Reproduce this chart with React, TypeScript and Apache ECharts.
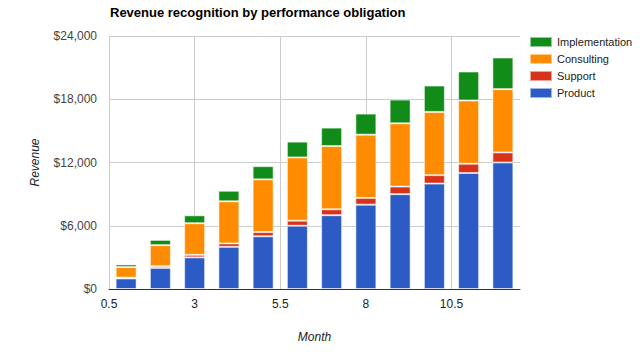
import React, { useEffect, useRef } from "react";
import * as echarts from "echarts";

const months = ["1", "2", "3", "4", "5", "6", "7", "8", "9", "10", "11", "12"];
const product = [1000, 2000, 3000, 4000, 5000, 6000, 7000, 8000, 9000, 10000, 11000, 12000];
const support = [80, 160, 240, 320, 400, 480, 560, 640, 720, 800, 880, 960];
const consulting = [1000, 2000, 3000, 4000, 5000, 6000, 6000, 6000, 6000, 6000, 6000, 6000];
const implementation = [250, 500, 750, 1000, 1250, 1500, 1750, 2000, 2250, 2500, 2750, 3000];
const xTicks = [0.5, 3, 5.5, 8, 10.5];
const legendOrder = ["Implementation", "Consulting", "Support", "Product"];

const FONT = "Liberation Sans, Arial, sans-serif";

export default function App() {
  const ref = useRef<HTMLDivElement>(null);
  useEffect(() => {
    if (!ref.current) return;
    const chart = echarts.init(ref.current, undefined, { renderer: "svg" });
    const mk = (name: string, vals: number[], color: string) => ({
      name,
      type: "bar",
      stack: "total",
      xAxisIndex: 1,
      barWidth: 21,
      data: vals,
      itemStyle: { color, borderColor: "rgba(255,255,255,0.55)", borderWidth: 1 },
    });
    chart.setOption({
      animation: false,
      textStyle: { fontFamily: FONT },
      title: {
        text: "Revenue recognition by performance obligation",
        left: 105,
        top: 1,
        textStyle: { fontSize: 13, fontWeight: "bold", color: "#000", fontFamily: FONT },
      },
      legend: {
        orient: "vertical",
        left: 529,
        top: 36,
        padding: 0,
        itemWidth: 22,
        itemHeight: 10,
        itemGap: 5,
        icon: "rect",
        data: legendOrder,
        textStyle: { fontSize: 11, color: "#222", fontFamily: FONT },
      },
      grid: { left: 109, top: 36, width: 411, height: 253, containLabel: false },
      xAxis: [
        {
          type: "value",
          min: 0.5,
          max: 12.5,
          name: "Month",
          nameLocation: "middle",
          nameGap: 42,
          nameTextStyle: { fontStyle: "italic", fontSize: 12, color: "#222", fontFamily: FONT },
          axisLine: { show: true, lineStyle: { color: "#333", width: 1 } },
          axisTick: { show: false, customValues: xTicks },
          axisLabel: { customValues: xTicks, fontSize: 12, color: "#222", margin: 9, fontFamily: FONT },
          splitLine: { show: true, lineStyle: { color: "#ccc", width: 1 } },
        },
        {
          type: "category",
          data: months,
          position: "bottom",
          boundaryGap: true,
          show: false,
        },
      ],
      yAxis: {
        type: "value",
        min: 0,
        max: 24000,
        interval: 6000,
        name: "Revenue",
        nameLocation: "middle",
        nameGap: 68,
        nameTextStyle: { fontStyle: "italic", fontSize: 12, color: "#222", fontFamily: FONT },
        axisLine: { show: false },
        axisTick: { show: false },
        axisLabel: {
          fontSize: 12,
          color: "#444",
          margin: 12,
          fontFamily: FONT,
          formatter: (v: number) => "$" + v.toLocaleString("en-US"),
        },
        splitLine: { show: true, lineStyle: { color: "#ccc", width: 1 } },
      },
      series: [
        mk("Product", product, "#2c5bc5"),
        mk("Support", support, "#d9321a"),
        mk("Consulting", consulting, "#ff8c00"),
        mk("Implementation", implementation, "#118c18"),
      ],
    });
    return () => chart.dispose();
  }, []);
  return <div ref={ref} style={{ width: 640, height: 360, margin: -8 }} />;
}
